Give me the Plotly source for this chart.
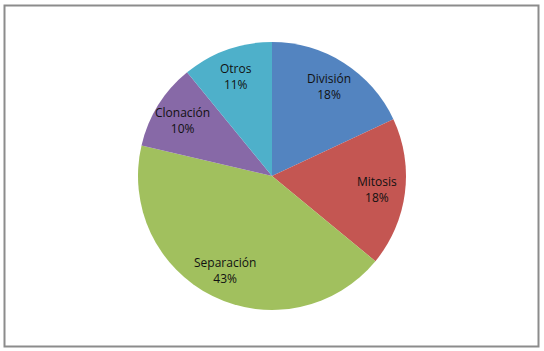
import math
import plotly.graph_objects as go

labels = ["División", "Mitosis", "Separación", "Clonación", "Otros"]
values = [18.0, 17.9, 42.6, 10.4, 10.9]
colors = ["#5384C0", "#C45652", "#A1C05E", "#8769A7", "#4EB0CA"]

W, H = 544, 351
cx, cy, r = 272, 176, 134

fig = go.Figure(go.Pie(
    labels=labels,
    values=values,
    sort=False,
    direction="clockwise",
    rotation=0,
    marker=dict(colors=colors, line=dict(width=0)),
    textinfo="none",
    domain=dict(x=[(cx - r) / W, (cx + r) / W], y=[(H - cy - r) / H, (H - cy + r) / H]),
    showlegend=False,
    hoverinfo="label+percent",
))

# data labels placed along each slice's mid-angle (computed from the values)
total = sum(values)
annotations = []
cum = 0.0
for lab, v in zip(labels, values):
    mid = (cum + v / 2) / total * 2 * math.pi
    cum += v
    rr = 0.79 * r
    px = cx + rr * math.sin(mid)
    py = cy - rr * math.cos(mid)
    annotations.append(dict(
        x=px / W, y=1 - py / H, xref="paper", yref="paper",
        text=f"{lab}<br>{round(v / total * 100)}%",
        showarrow=False, xanchor="center", yanchor="middle",
        font=dict(family="Open Sans", size=12, color="#111111"),
    ))

fig.update_layout(
    width=W, height=H,
    margin=dict(l=0, r=0, t=0, b=0),
    paper_bgcolor="white",
    plot_bgcolor="white",
    annotations=annotations,
    shapes=[dict(type="rect", xref="paper", yref="paper",
                 x0=4.5 / W, x1=538.5 / W, y0=1 - 346.5 / H, y1=1 - 5.5 / H,
                 line=dict(color="#8c8c8c", width=2), fillcolor="rgba(0,0,0,0)")],
)

fig.write_html("out.html", config={"displayModeBar": False},
               post_script="document.body.style.margin='0';document.body.style.overflow='hidden';")
